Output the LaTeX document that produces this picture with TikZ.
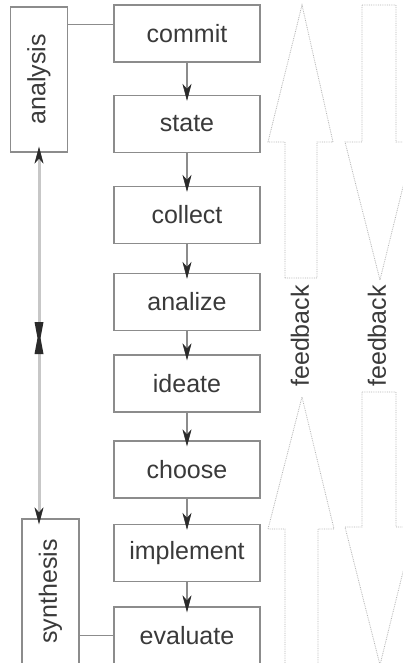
\documentclass[tikz,border=0pt]{standalone}
\usepackage{fontspec}
\setmainfont{Liberation Sans}
\usetikzlibrary{arrows.meta}
\definecolor{txt}{HTML}{3A3A3A}
\definecolor{frame}{HTML}{8C8C8C}
\definecolor{dots}{HTML}{B4B4B4}
\definecolor{tipc}{HTML}{2A2A2A}
\begin{document}
\begin{tikzpicture}[x=1pt,y=-1pt,
  stepbox/.style={draw=frame,line width=1.3pt,fill=white,minimum width=146pt,minimum height=57pt,inner sep=0pt,text=txt,font=\fontsize{25}{25}\selectfont},
  phasebox/.style={draw=frame,line width=1.3pt,fill=white,minimum width=57pt,minimum height=145pt,inner sep=0pt,text=txt,font=\fontsize{25}{25}\selectfont},
  bigtip/.tip={Stealth[length=17pt,width=9pt,inset=5pt,color=tipc,line width=0.5pt]},
  flow/.style={draw=frame,line width=1.2pt,-bigtip,shorten >=-6pt},
  link/.style={draw=frame,line width=1pt},
  phaseline/.style={draw=black!22,line width=3pt},
  fb/.style={draw=dots,line width=0.8pt,densely dotted},
  fbtext/.style={text=txt,font=\fontsize{25}{25}\selectfont,rotate=90}]
\useasboundingbox[fill=white] (0,0) rectangle (403,663);

% feedback arrows
\draw[fb] (285,278) -- (285,142) -- (268,142) -- (302,5) -- (333,142) -- (317,142) -- (317,278) -- cycle;
\draw[fb] (285,670) -- (285,529) -- (268,529) -- (302,397) -- (334,529) -- (318,529) -- (318,670);
\draw[fb] (362,5) -- (396,5) -- (396,142) -- (414,142) -- (380,280) -- (345,142) -- (362,142) -- cycle;
\draw[fb] (362,392) -- (396,392) -- (396,527) -- (414,527) -- (380,665) -- (345,527) -- (362,527) -- cycle;
\node[fbtext] (fb1) at (300,336) {feedback};
\node[fbtext] (fb2) at (377,336) {feedback};

% steps
\node[stepbox] (commit) at (187,33.5) {commit};
\node[stepbox] (state) at (187,124) {state};
\node[stepbox] (collect) at (187,215) {collect};
\node[stepbox] (analize) at (187,302) {analize};
\node[stepbox] (ideate) at (187,383.5) {ideate};
\node[stepbox] (choose) at (187,469.5) {choose};
\node[stepbox] (implement) at (187,553) {implement};
\node[stepbox] (evaluate) at (187,635.5) {evaluate};

\draw[flow] (commit) -- (state);
\draw[flow] (state) -- (collect);
\draw[flow] (collect) -- (analize);
\draw[flow] (analize) -- (ideate);
\draw[flow] (ideate) -- (choose);
\draw[flow] (choose) -- (implement);
\draw[flow] (implement) -- (evaluate);

% phases
\node[phasebox] (analysis) at (39,79.5) {\rotatebox{90}{analysis}};
\node[phasebox] (synthesis) at (50.5,591.5) {\rotatebox{90}{synthesis}};

\draw[link] (analysis.east |- 0,25) -- (commit.west |- 0,25);
\draw[link] (synthesis.east |- evaluate.west) -- (evaluate.west);

\coordinate (mid) at (39,338);
\coordinate (synTop) at (analysis.south |- synthesis.north);
\draw[phaseline,-bigtip,shorten >=-6pt] (mid) -- (analysis.south);
\draw[phaseline,-bigtip,shorten >=-6pt] (mid) -- (synTop);
\fill[tipc] ([shift={(-4.5,-16)}]mid) -- ([shift={(4.5,-16)}]mid) -- ([shift={(1.5,0)}]mid) -- ([shift={(4.5,16)}]mid) -- ([shift={(-4.5,16)}]mid) -- ([shift={(-1.5,0)}]mid) -- cycle;
\end{tikzpicture}
\end{document}
